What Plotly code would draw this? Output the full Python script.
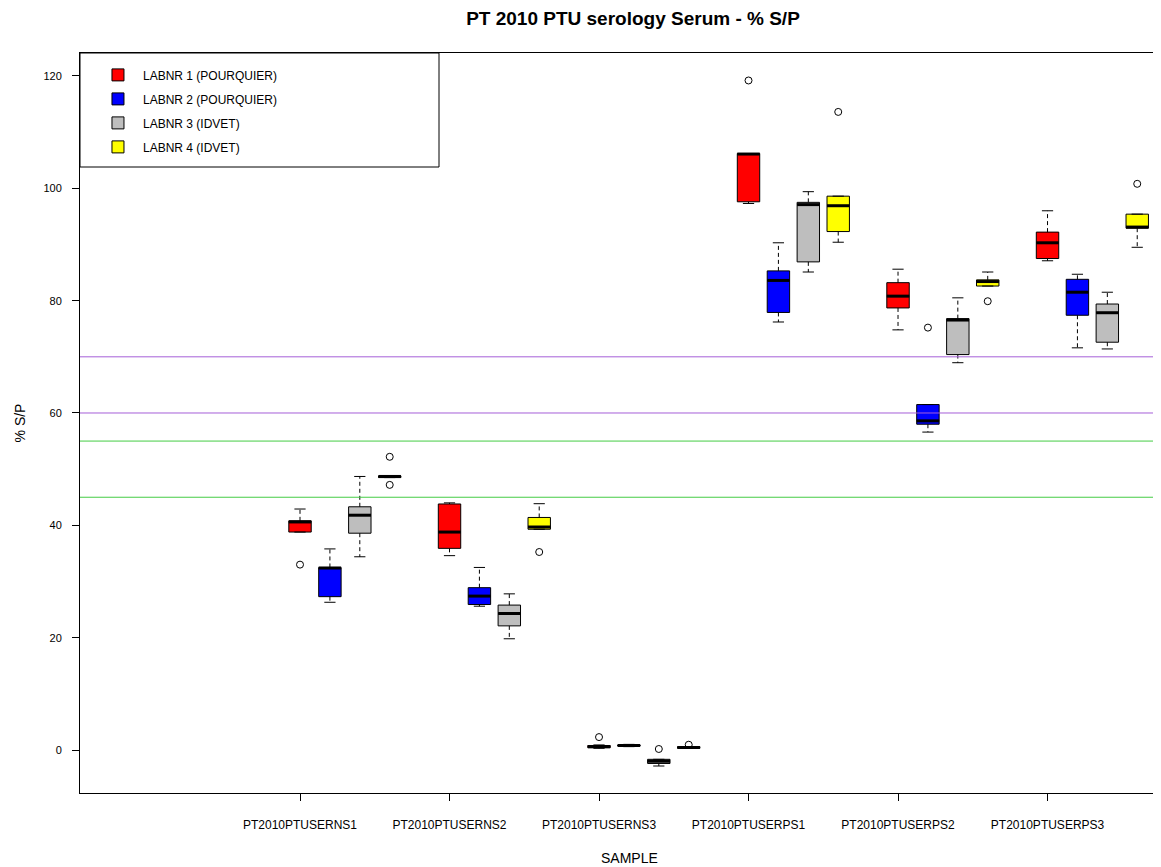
import plotly.graph_objects as go

# ---------------- data ----------------
samples = ["PT2010PTUSERNS1", "PT2010PTUSERNS2", "PT2010PTUSERNS3",
           "PT2010PTUSERPS1", "PT2010PTUSERPS2", "PT2010PTUSERPS3"]
labs = ["LABNR 1 (POURQUIER)", "LABNR 2 (POURQUIER)", "LABNR 3 (IDVET)", "LABNR 4 (IDVET)"]
lab_colors = ["#FF0000", "#0000FF", "#BEBEBE", "#FFFF00"]

# per lab: values for the 6 samples
lab1_low = [38.8, 34.6, 0.3, 97.3, 74.8, 87.1]
lab1_q1 = [38.8, 35.9, 0.4, 97.6, 78.7, 87.5]
lab1_med = [40.6, 38.8, 0.6, 106.1, 80.8, 90.3]
lab1_q3 = [40.8, 43.8, 0.8, 106.2, 83.2, 92.2]
lab1_high = [42.9, 44.0, 0.9, 106.2, 85.6, 96.0]
lab1_out = [[33.0], [], [2.3], [119.2], [], []]

lab2_low = [26.3, 25.6, 0.6, 76.2, 56.6, 71.6]
lab2_q1 = [27.3, 25.9, 0.7, 77.9, 58.0, 77.4]
lab2_med = [32.4, 27.4, 0.8, 83.6, 58.6, 81.5]
lab2_q3 = [32.5, 28.9, 0.9, 85.3, 61.5, 83.8]
lab2_high = [35.8, 32.5, 1.0, 90.3, 61.5, 84.7]
lab2_out = [[], [], [], [], [75.2], []]

lab3_low = [34.4, 19.8, -2.85, 85.1, 68.95, 71.4]
lab3_q1 = [38.6, 22.1, -2.4, 86.9, 70.4, 72.6]
lab3_med = [41.8, 24.3, -2.0, 97.1, 76.55, 77.85]
lab3_q3 = [43.3, 25.8, -1.66, 97.5, 76.8, 79.4]
lab3_high = [48.7, 27.8, -1.66, 99.4, 80.5, 81.5]
lab3_out = [[], [], [0.18], [], [], []]

lab4_low = [48.5, 39.3, 0.3, 90.4, 82.6, 89.5]
lab4_q1 = [48.5, 39.3, 0.3, 92.3, 82.6, 92.9]
lab4_med = [48.7, 39.7, 0.45, 96.9, 83.4, 93.1]
lab4_q3 = [48.8, 41.4, 0.6, 98.6, 83.7, 95.4]
lab4_high = [48.8, 43.85, 0.6, 98.6, 85.1, 95.4]
lab4_out = [[47.2, 52.2], [35.25], [0.94], [113.6], [79.9], [100.8]]

cutoffs = [70, 60, 55, 45]
cutoff_colors = ["#A55FD8", "#A55FD8", "#44CC44", "#44CC44"]

y_ticks = [0, 20, 40, 60, 80, 100, 120]

stats = [
    (lab1_low, lab1_q1, lab1_med, lab1_q3, lab1_high, lab1_out),
    (lab2_low, lab2_q1, lab2_med, lab2_q3, lab2_high, lab2_out),
    (lab3_low, lab3_q1, lab3_med, lab3_q3, lab3_high, lab3_out),
    (lab4_low, lab4_q1, lab4_med, lab4_q3, lab4_high, lab4_out),
]

sample_pos = list(range(1, len(samples) + 1))
lab_offset = 0.2
box_w = 0.15
cap_half = box_w / 4

FONT = "Liberation Sans, Arial, sans-serif"

# page body has an 8px margin: figure is offset by (8, 8)
FIG_W, FIG_H = 1153, 859
M_L, M_T, M_B, M_R = 72, 45, 74, 0

fig = go.Figure()

for j, (lab, col, (lo, q1, med, q3, hi, outs)) in enumerate(zip(labs, lab_colors, stats)):
    xs = [p + j * lab_offset for p in sample_pos]
    # box body
    fig.add_trace(go.Box(
        x=xs, q1=q1, median=med, q3=q3, lowerfence=q1, upperfence=q3,
        width=box_w, fillcolor=col, line=dict(color="black", width=1),
        whiskerwidth=0, name=lab, legendgroup=lab, showlegend=True,
        hoverinfo="skip",
    ))
    # dashed whiskers
    wx, wy = [], []
    for x, a, b, c, d in zip(xs, lo, q1, q3, hi):
        wx += [x, x, None, x, x, None]
        wy += [c, d, None, b, a, None]
    fig.add_trace(go.Scatter(x=wx, y=wy, mode="lines",
                             line=dict(color="black", width=1, dash="4px,3px"),
                             showlegend=False, hoverinfo="skip", legendgroup=lab))
    # caps
    cx, cy = [], []
    for x, a, d in zip(xs, lo, hi):
        cx += [x - cap_half, x + cap_half, None, x - cap_half, x + cap_half, None]
        cy += [a, a, None, d, d, None]
    fig.add_trace(go.Scatter(x=cx, y=cy, mode="lines",
                             line=dict(color="black", width=1),
                             showlegend=False, hoverinfo="skip", legendgroup=lab))
    # thick medians
    mx, my = [], []
    for x, m in zip(xs, med):
        mx += [x - box_w / 2, x + box_w / 2, None]
        my += [m, m, None]
    fig.add_trace(go.Scatter(x=mx, y=my, mode="lines",
                             line=dict(color="black", width=3),
                             showlegend=False, hoverinfo="skip", legendgroup=lab))
    # outliers
    ox, oy = [], []
    for x, vals in zip(xs, outs):
        for v in vals:
            ox.append(x)
            oy.append(v)
    fig.add_trace(go.Scatter(x=ox, y=oy, mode="markers",
                             marker=dict(symbol="circle-open", size=7,
                                         color="black", line=dict(width=1)),
                             showlegend=False, hoverinfo="skip", legendgroup=lab))

shapes = []
for v, c in zip(cutoffs, cutoff_colors):
    shapes.append(dict(type="line", xref="paper", x0=0, x1=1, yref="y", y0=v, y1=v,
                       line=dict(color=c, width=1), layer="above"))
# legend frame
shapes.append(dict(type="rect", xref="paper", yref="paper",
                   x0=0, x1=(439 - 80) / 1081, y0=(793 - 167) / 740, y1=1,
                   line=dict(color="black", width=1), fillcolor="white", layer="below"))

fig.update_layout(
    width=FIG_W, height=FIG_H,
    margin=dict(l=M_L, r=M_R, t=M_T, b=M_B),
    paper_bgcolor="white", plot_bgcolor="white",
    font=dict(family=FONT, color="black", size=12),
    title=dict(text="PT 2010 PTU serology Serum - % S/P", xref="container",
               x=(633 - 8) / FIG_W, xanchor="center", yref="container",
               y=1 - (18 - 8) / FIG_H, yanchor="middle",
               font=dict(family=FONT, size=19, color="black", weight="bold")),
    showlegend=True,
    legend=dict(x=0.012, y=0.99, xanchor="left", yanchor="top",
                bgcolor="rgba(0,0,0,0)", borderwidth=0,
                font=dict(family=FONT, size=12, color="black"),
                tracegroupgap=5, itemwidth=40),
    shapes=shapes,
    annotations=[
        dict(text="SAMPLE", xref="paper", yref="paper", x=(629 - 80) / 1081,
             y=(793 - 858) / 740, xanchor="center", yanchor="middle",
             showarrow=False, font=dict(family=FONT, size=14, color="black")),
    ],
)

fig.update_xaxes(range=[-0.4716, 6.759], tickvals=sample_pos, ticktext=samples,
                 ticks="outside", ticklen=7, tickcolor="black",
                 showline=True, linecolor="black", linewidth=1, mirror=True,
                 showgrid=False, zeroline=False,
                 tickfont=dict(family=FONT, size=12, color="black"),
                 ticklabelstandoff=14)
fig.update_yaxes(range=[-7.656, 124.09], tickvals=y_ticks,
                 ticks="outside", ticklen=7, tickcolor="black",
                 showline=True, linecolor="black", linewidth=1, mirror=False,
                 showgrid=False, zeroline=False,
                 tickfont=dict(family=FONT, size=11, color="black"),
                 ticklabelstandoff=8,
                 title=dict(text="% S/P", font=dict(family=FONT, size=14, color="black"),
                            standoff=14))

fig.write_html("out.html")
